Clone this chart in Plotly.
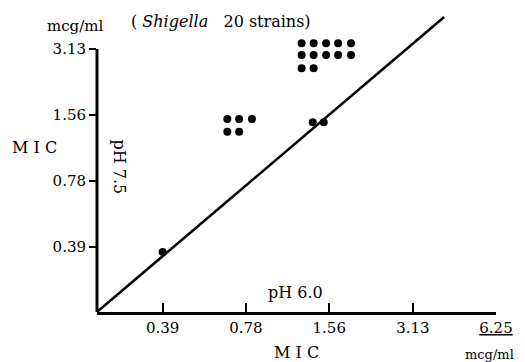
import plotly.graph_objects as go

# Axis ticks (MIC, mcg/ml)
tick_vals = [0.39, 0.78, 1.56, 3.13, 6.25]
x_tick_text = ["0.39", "0.78", "1.56", "3.13", "<u>6.25</u>"]
y_tick_vals = [0.39, 0.78, 1.56, 3.13]
y_tick_text = ["0.39", "0.78", "1.56", "3.13"]

# Strains: MIC at pH 6.0 (x) and pH 7.5 (y), one dot per strain
dots_x = [1.24, 1.37, 1.52, 1.68, 1.87,
          1.24, 1.37, 1.52, 1.68, 1.87,
          1.24, 1.37,
          0.668, 0.737, 0.820,
          0.668, 0.737,
          1.36, 1.49,
          0.39]
dots_y = [3.33, 3.33, 3.33, 3.33, 3.33,
          2.94, 2.94, 2.94, 2.94, 2.94,
          2.56, 2.56,
          1.50, 1.50, 1.50,
          1.31, 1.31,
          1.45, 1.45,
          0.37]

# Reference line (equal MIC)
line_x = [0.2258, 4.06]
line_y = [0.197, 4.38]

FONT = "DejaVu Serif"

# plot area in pixels
L, R, T, B = 97, 504, 12, 312
W, H = R - L, B - T
Y_LINE_TOP = 49  # pixel where the y axis line ends (3.13)


def px(x):
    return (x - L) / W


def py(y):
    return (B - y) / H


fig = go.Figure()
fig.add_trace(go.Scatter(x=line_x, y=line_y, mode="lines",
                         line=dict(color="black", width=2.6),
                         cliponaxis=False, showlegend=False))
fig.add_trace(go.Scatter(x=dots_x, y=dots_y, mode="markers",
                         marker=dict(color="black", size=8),
                         cliponaxis=False, showlegend=False))

fig.update_xaxes(type="log", range=[-0.6463, 0.7959],
                 tickvals=tick_vals, ticktext=x_tick_text,
                 ticks="inside", ticklen=9, tickwidth=1.5, tickcolor="black",
                 showline=True, linecolor="black", linewidth=3,
                 showgrid=False, zeroline=False,
                 tickfont=dict(family=FONT, size=15, color="black"))
fig.update_yaxes(type="log", range=[-0.7058, -0.7058 + H / 218.9],
                 tickvals=y_tick_vals, ticktext=y_tick_text,
                 ticks="outside", ticklen=7, tickwidth=1.5, tickcolor="black",
                 showline=False, showgrid=False, zeroline=False,
                 tickfont=dict(family=FONT, size=15, color="black"))

# y axis line, ending at the 3.13 tick
fig.add_shape(type="line", xref="paper", yref="paper",
              x0=0, x1=0, y0=py(B), y1=py(Y_LINE_TOP),
              line=dict(color="black", width=3))

NB = "\u00a0"
annotations = [
    dict(text="mcg/ml", x=px(75), y=py(26), size=15),
    dict(text="(" + NB + "<i>Shigella</i>" + NB * 3 + "20 strains)",
         x=px(130), y=py(21), size=16, xanchor="left"),
    dict(text="M I C", x=px(33), y=py(147), size=16),
    dict(text="pH 7.5", x=px(119), y=py(167), size=16, textangle=90),
    dict(text="pH 6.0", x=px(299), y=py(292), size=16),
    dict(text="M I C", x=px(300), y=py(352), size=16),
    dict(text="mcg/ml", x=px(497), y=py(354), size=13),
]
for a in annotations:
    size = a.pop("size")
    xanchor = a.pop("xanchor", "center")
    fig.add_annotation(xref="paper", yref="paper", showarrow=False,
                       xanchor=xanchor, yanchor="middle",
                       font=dict(family=FONT, size=size, color="black"), **a)

fig.update_layout(width=525, height=362,
                  margin=dict(l=L, r=525 - R, t=T, b=362 - B),
                  paper_bgcolor="white", plot_bgcolor="white")

fig.write_html("out.html")
